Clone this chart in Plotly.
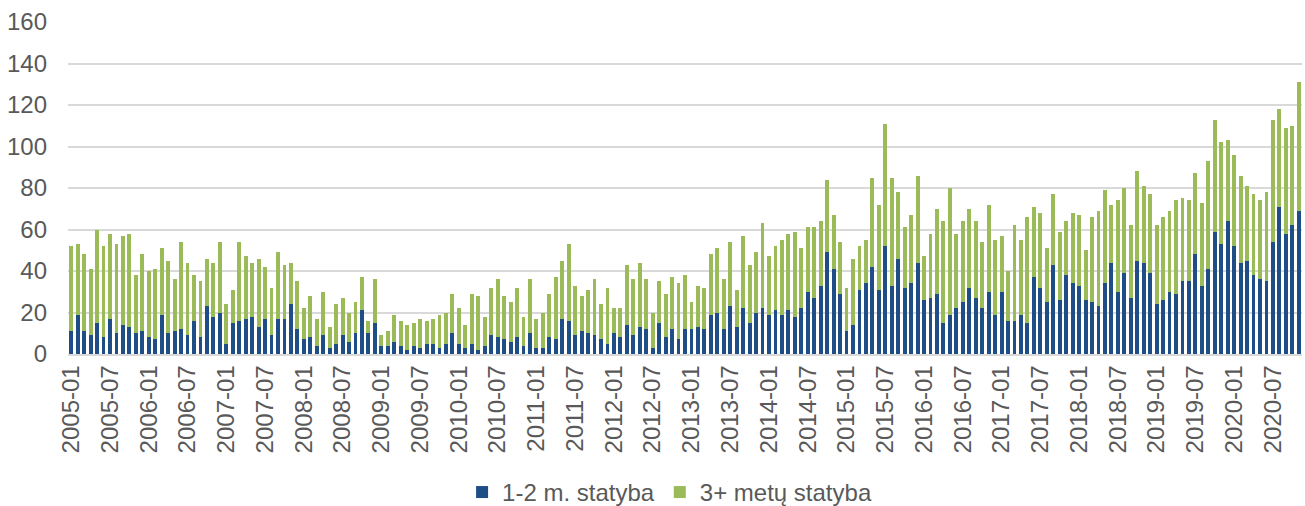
import plotly.graph_objects as go

# Months 2005-01 .. 2020-11
months = [f"{y}-{m:02d}" for y in range(2005, 2021) for m in range(1, 13)][:191]

# Totals (stack heights)
total = [52, 53, 48, 41, 60, 52, 58, 53, 57, 58, 38, 48, 40, 41, 51, 45, 36, 54, 44, 38,
         35, 46, 44, 54, 24, 31, 54, 47, 44, 46, 42, 32, 49, 43, 44, 35, 22, 28, 17, 30,
         13, 24, 27, 20, 25, 37, 16, 36, 9, 11, 19, 16, 14, 15, 17, 16, 17, 19, 20, 29,
         22, 14, 29, 28, 18, 32, 36, 28, 25, 32, 18, 36, 17, 20, 29, 37, 45, 53, 33, 28,
         31, 36, 24, 32, 22, 22, 43, 36, 44, 36, 20, 35, 29, 37, 34, 38, 25, 33, 32, 48,
         51, 36, 54, 31, 57, 43, 49, 63, 47, 52, 55, 58, 59, 51, 61, 61, 64, 84, 67, 54,
         32, 46, 52, 55, 85, 72, 111, 85, 78, 61, 67, 86, 47, 58, 70, 64, 80, 58, 64, 70,
         64, 54, 72, 55, 57, 40, 62, 55, 66, 71, 68, 51, 77, 59, 64, 68, 67, 50, 66, 69,
         79, 72, 74, 80, 62, 88, 81, 77, 62, 66, 69, 74, 75, 74, 87, 73, 93, 113, 102, 103,
         96, 86, 81, 77, 74, 78, 113, 118, 109, 110, 131]

short_build = [11, 19, 11, 9, 15, 8, 17, 10, 14, 13, 10, 11, 8, 7, 19, 10, 11, 12, 9, 16,
               8, 23, 18, 20, 5, 15, 16, 17, 18, 13, 17, 9, 17, 17, 24, 12, 7, 8, 4, 9,
               3, 5, 9, 6, 10, 21, 10, 15, 4, 4, 6, 4, 2, 4, 3, 5, 5, 3, 5, 10,
               5, 3, 5, 2, 4, 9, 8, 7, 6, 8, 4, 10, 3, 3, 8, 7, 17, 16, 9, 11,
               10, 9, 7, 5, 10, 8, 14, 9, 13, 12, 3, 15, 8, 12, 7, 12, 12, 13, 12, 19,
               20, 12, 23, 13, 22, 15, 20, 22, 19, 21, 19, 21, 18, 22, 30, 27, 33, 49, 41, 29,
               11, 14, 31, 34, 42, 31, 52, 33, 46, 32, 34, 44, 26, 27, 29, 15, 19, 22, 25, 32,
               27, 22, 30, 19, 30, 16, 16, 19, 15, 37, 32, 25, 43, 26, 38, 34, 33, 26, 25, 23,
               34, 44, 30, 39, 27, 45, 44, 39, 24, 26, 30, 29, 35, 35, 48, 33, 41, 59, 53, 64,
               52, 44, 45, 38, 36, 35, 54, 71, 58, 62, 69]

long_build = [t - s for t, s in zip(total, short_build)]

tick_vals = months[::6]

fig = go.Figure()
fig.add_trace(go.Bar(x=months, y=short_build, name="1-2 m. statyba",
                     marker=dict(color="#1f4e87", line=dict(width=0))))
fig.add_trace(go.Bar(x=months, y=long_build, name="3+ metų statyba",
                     marker=dict(color="#9bbb59", line=dict(width=0))))

fig.update_layout(
    barmode="stack",
    bargap=0.4,
    width=1305, height=506,
    margin=dict(l=68, r=3, t=22, b=152, autoexpand=False),
    paper_bgcolor="white", plot_bgcolor="white",
    font=dict(family="Liberation Sans, Arial, sans-serif", color="#595959", size=24),
    legend=dict(orientation="h", x=0.4875, xanchor="center", y=-0.417, yanchor="middle",
                font=dict(size=24), traceorder="normal", itemwidth=30),
    showlegend=True,
)
fig.update_xaxes(type="category", tickmode="array", tickvals=tick_vals, ticktext=tick_vals,
                 tickangle=-90, tickfont=dict(size=24), showgrid=False, automargin=False,
                 showline=True, linecolor="#d9d9d9", linewidth=1.5, ticks="")
fig.update_yaxes(range=[0, 160], dtick=20, showgrid=True, gridcolor="#d9d9d9", gridwidth=1.5,
                 zeroline=False, showline=False, tickfont=dict(size=24), ticks="",
                 ticklabelstandoff=20, automargin=False)

fig.write_html("out.html", config={"displayModeBar": False},
               post_script="document.body.style.margin='0';")
